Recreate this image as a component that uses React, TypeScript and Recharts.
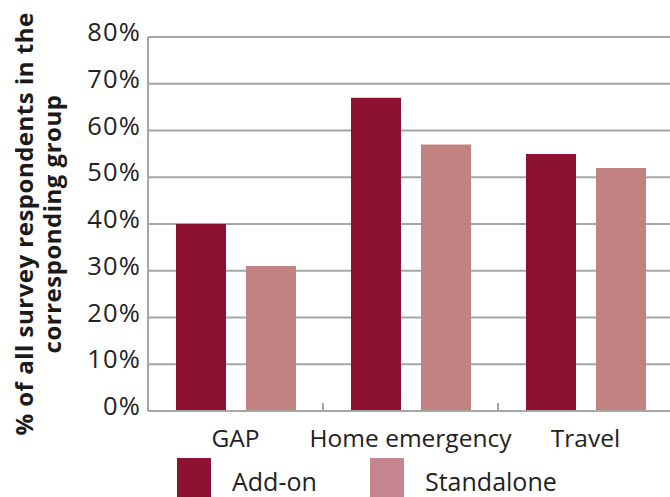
import React from 'react'
import { Bar, BarChart, CartesianGrid, Legend, XAxis, YAxis } from 'recharts'

const categories = ['GAP', 'Home emergency', 'Travel']
const addOn = [40, 67, 55]
const standalone = [31, 57, 52]
const yTicks = [0, 10, 20, 30, 40, 50, 60, 70, 80]
const edgeTicks = [0, 1, 2, 3]
const seriesNames = ['Add-on', 'Standalone']

const FONT = "'Open Sans', 'Noto Sans', sans-serif"
const GRID = '#a6a6a6'
const ADD_ON = '#8c1230'
const STANDALONE = '#c28282'
const legendColors: Record<string, string> = { 'Add-on': '#8c1230', Standalone: '#c5858f' }

const data = categories.map((category, i) => ({
  category,
  pos: i + 0.5,
  addOn: addOn[i],
  standalone: standalone[i],
}))

const YTick = ({ x, y, payload }: any) => (
  <text
    x={x + 1}
    y={y}
    dy={4}
    textAnchor="end"
    fontSize={25.5}
    letterSpacing={1.2}
    fill="#222"
    fontFamily={FONT}
  >
    {payload.value}%
  </text>
)

const XTick = ({ x, y, payload }: any) => (
  <text x={x} y={y} dy={35} textAnchor="middle" fontSize={24.5} fill="#222" fontFamily={FONT}>
    {payload.value}
  </text>
)

const YLabel = ({ viewBox }: any) => {
  const cy = viewBox.y + viewBox.height / 2
  return (
    <text
      transform="rotate(-90)"
      textAnchor="middle"
      fontSize={24}
      fontWeight="bold"
      letterSpacing={0.5}
      fill="#1a1a1a"
      fontFamily={FONT}
    >
      <tspan x={-cy} y={33}>% of all survey respondents in the</tspan>
      <tspan x={-cy} y={61}>corresponding group</tspan>
    </text>
  )
}

const LegendContent = ({ payload }: any) => (
  <div style={{ position: 'relative', width: 700, height: 72, fontFamily: FONT }}>
    {(payload || []).map((item: any, i: number) => (
      <div key={item.value} style={{ position: 'absolute', left: 177 + i * 193, top: 0 }}>
        <div
          style={{
            position: 'absolute',
            left: 0,
            top: 0,
            width: 34,
            height: 40,
            background: legendColors[item.value] || item.color,
          }}
        />
        <div
          style={{
            position: 'absolute',
            left: 55,
            top: 11,
            fontSize: 25,
            lineHeight: '25px',
            color: '#222',
            whiteSpace: 'nowrap',
          }}
        >
          {item.value}
        </div>
      </div>
    ))}
  </div>
)

export default function App() {
  return (
    <div
      style={{
        position: 'absolute',
        left: 0,
        top: 0,
        width: 670,
        height: 497,
        overflow: 'hidden',
        background: '#fff',
      }}
    >
      <BarChart
        width={700}
        height={530}
        data={data}
        margin={{ top: 37, right: 27, left: 0, bottom: 0 }}
        barSize={50}
        barGap={20}
      >
        <CartesianGrid xAxisId="axisB" vertical={false} stroke={GRID} strokeWidth={2} />
        <XAxis
          xAxisId="axisA"
          dataKey="pos"
          type="number"
          domain={[0, 3]}
          ticks={edgeTicks}
          height={1}
          axisLine={{ stroke: GRID, strokeWidth: 2 }}
          tickLine={{ stroke: GRID, strokeWidth: 2 }}
          tickSize={-8}
          tickFormatter={() => ''}
        />
        <XAxis
          xAxisId="axisB"
          dataKey="category"
          height={46}
          axisLine={false}
          tickLine={false}
          tickSize={0}
          tickMargin={0}
          tick={<XTick />}
          interval={0}
        />
        <YAxis
          width={148}
          domain={[0, 80]}
          ticks={yTicks}
          axisLine={{ stroke: GRID, strokeWidth: 2 }}
          tickLine={false}
          tick={<YTick />}
          label={<YLabel />}
        />
        <Legend
          verticalAlign="bottom"
          content={<LegendContent />}
          wrapperStyle={{ left: 0, top: 458, width: 700, height: 72 }}
        />
        <Bar xAxisId="axisB" dataKey="addOn" name={seriesNames[0]} fill={ADD_ON} isAnimationActive={false} />
        <Bar xAxisId="axisB" dataKey="standalone" name={seriesNames[1]} fill={STANDALONE} isAnimationActive={false} />
      </BarChart>
    </div>
  )
}
